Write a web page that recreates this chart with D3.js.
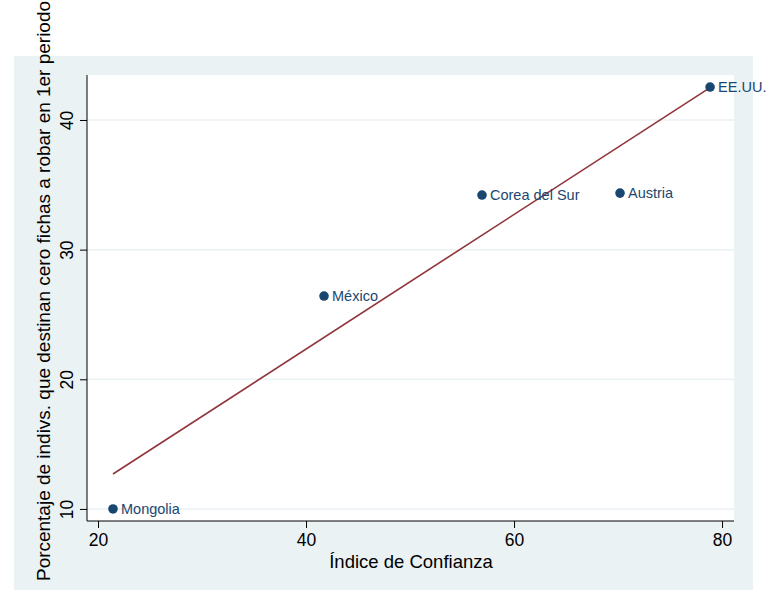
<!DOCTYPE html>
<html>
<head>
<meta charset="utf-8">
<script src="https://cdn.jsdelivr.net/npm/d3@7"></script>
<style>
  html, body { margin: 0; padding: 0; background: #ffffff; }
  svg { display: block; }
  text { font-family: "Liberation Sans", Arial, Helvetica, sans-serif; }
</style>
</head>
<body>
<svg id="chart" width="771" height="590"></svg>
<script>
// Countries: trust index vs. share of individuals sending zero tokens to steal in period 1
const countries = ["Mongolia", "México", "Corea del Sur", "Austria", "EE.UU."];
const trustIndex = [21.44, 41.73, 56.92, 70.19, 78.85];
const zeroShare = [10.0, 26.42, 34.21, 34.36, 42.54];

const xTicks = [20, 40, 60, 80];
const yTicks = [10, 20, 30, 40];

const xTitle = "Índice de Confianza";
const yTitle = "Porcentaje de indivs. que destinan cero fichas a robar en 1er periodo";

const svg = d3.select("#chart");

// Outer graph region and white plot region
const panel = { left: 14, top: 56, right: 753, bottom: 590 };
const plot = { left: 87, top: 75, right: 734, bottom: 521 };

const navy = "#1a476f";
const maroon = "#90353b";
const bgPanel = "#eaf2f3";

svg.append("rect")
  .attr("x", panel.left).attr("y", panel.top)
  .attr("width", panel.right - panel.left).attr("height", panel.bottom - panel.top)
  .attr("fill", bgPanel);

svg.append("rect")
  .attr("x", plot.left).attr("y", plot.top)
  .attr("width", plot.right - plot.left).attr("height", plot.bottom - plot.top)
  .attr("fill", "#ffffff");

const x = d3.scaleLinear().domain([18.94, 81.15]).range([plot.left, plot.right]);
const y = d3.scaleLinear().domain([9.07, 43.47]).range([plot.bottom, plot.top]);

// Horizontal grid lines
svg.append("g")
  .selectAll("line")
  .data(yTicks)
  .join("line")
  .attr("x1", plot.left).attr("x2", plot.right)
  .attr("y1", d => y(d)).attr("y2", d => y(d))
  .attr("stroke", bgPanel).attr("stroke-width", 1.5);

// Least-squares fit line across the observed range
const n = trustIndex.length;
const mx = d3.mean(trustIndex), my = d3.mean(zeroShare);
let sxy = 0, sxx = 0;
for (let i = 0; i < n; i++) {
  sxy += (trustIndex[i] - mx) * (zeroShare[i] - my);
  sxx += (trustIndex[i] - mx) ** 2;
}
const slope = sxy / sxx;
const intercept = my - slope * mx;
const [xmin, xmax] = d3.extent(trustIndex);
const fitPts = [xmin, xmax].map(v => [v, intercept + slope * v]);

svg.append("path")
  .datum(fitPts)
  .attr("d", d3.line().x(d => x(d[0])).y(d => y(d[1])))
  .attr("fill", "none")
  .attr("stroke", maroon)
  .attr("stroke-width", 1.6);

// Axes
const xAxis = d3.axisBottom(x).tickValues(xTicks).tickSize(7).tickPadding(6).tickFormat(d3.format("d"));
const yAxis = d3.axisLeft(y).tickValues(yTicks).tickSize(7).tickPadding(4).tickFormat(d3.format("d"));

const gx = svg.append("g").attr("transform", `translate(0,${plot.bottom})`).call(xAxis);
gx.select(".domain").attr("d", `M${plot.left},0H${plot.right}`).attr("stroke", "#000");
gx.selectAll(".tick line").attr("stroke", "#000");
gx.selectAll(".tick text")
  .attr("font-size", 17.5)
  .attr("font-family", "Liberation Sans, Arial, sans-serif")
  .attr("fill", "#000");

const gy = svg.append("g").attr("transform", `translate(${plot.left},0)`).call(yAxis);
gy.select(".domain").attr("d", `M0,${plot.top}V${plot.bottom}`).attr("stroke", "#000");
gy.selectAll(".tick line").attr("stroke", "#000");
gy.selectAll(".tick text")
  .attr("font-size", 17.5)
  .attr("font-family", "Liberation Sans, Arial, sans-serif")
  .attr("fill", "#000")
  .attr("x", null).attr("dy", null)
  .attr("text-anchor", "middle")
  .attr("transform", "translate(-14,0) rotate(-90)");

// Axis titles
svg.append("text")
  .attr("x", 411)
  .attr("y", 568)
  .attr("text-anchor", "middle")
  .attr("font-size", 18.5)
  .attr("fill", "#000")
  .text(xTitle);

svg.append("text")
  .attr("transform", "translate(50,291) rotate(-90)")
  .attr("text-anchor", "middle")
  .attr("font-size", 18.5)
  .attr("textLength", 580)
  .attr("lengthAdjust", "spacingAndGlyphs")
  .attr("fill", "#000")
  .text(yTitle);

// Points and labels
const pts = countries.map((c, i) => ({ name: c, x: trustIndex[i], y: zeroShare[i] }));

svg.append("g")
  .selectAll("circle")
  .data(pts)
  .join("circle")
  .attr("cx", d => x(d.x))
  .attr("cy", d => y(d.y))
  .attr("r", 4.8)
  .attr("fill", navy);

svg.append("g")
  .selectAll("text")
  .data(pts)
  .join("text")
  .attr("x", d => x(d.x) + 8)
  .attr("y", d => y(d.y))
  .attr("dy", "0.36em")
  .attr("font-size", 14.5)
  .attr("fill", navy)
  .text(d => d.name);
</script>
</body>
</html>
